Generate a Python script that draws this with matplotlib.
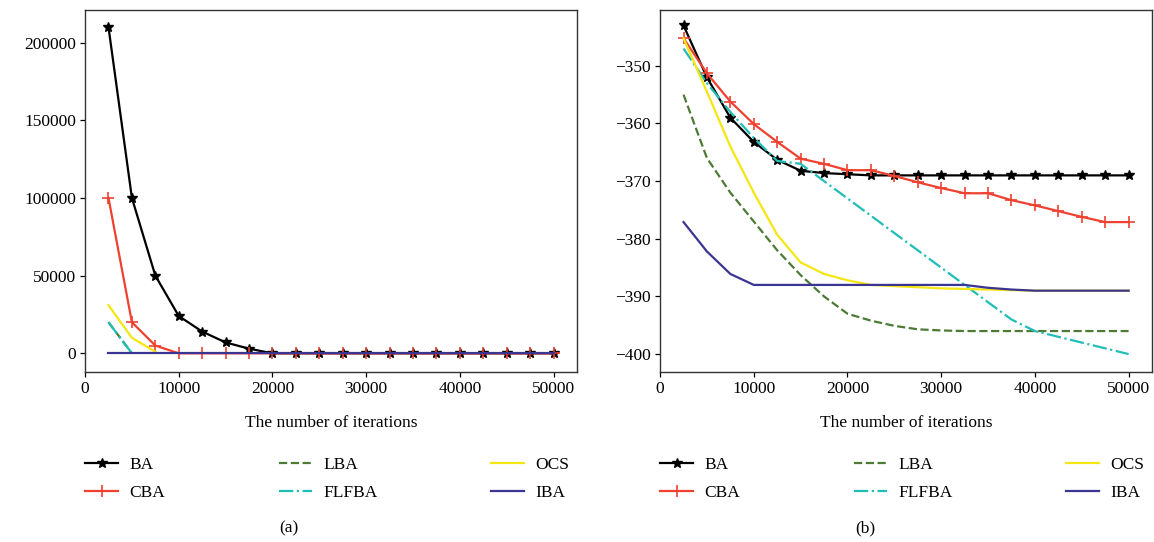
import numpy as np
import matplotlib
matplotlib.use('Agg')
import matplotlib.pyplot as plt

plt.rcParams['font.family'] = ['Liberation Serif', 'DejaVu Serif']
plt.rcParams['font.size'] = 12.5

############### data ################################
iters = np.arange(2500, 50001, 2500)   # 20 sampling points
labels = ['BA', 'CBA', 'LBA', 'FLFBA', 'OCS', 'IBA']

# (a) fitness on the first problem
a_BA = [210000, 100000, 50000, 24000, 14000, 7000, 3000] + [0] * 13
a_CBA = [100000, 20000, 5000] + [0] * 17
a_LBA = [20000, 0]
a_FLFBA = [20000, 0]
a_OCS = [31000, 10000, 1000]
a_IBA = [0] * 20

# (b) fitness on the second problem
b_BA = [-343, -352, -359, -363.2, -366.3, -368.2, -368.6, -368.8, -369, -369,
        -369, -369, -369, -369, -369, -369, -369, -369, -369, -369]
b_CBA = [-345.2, -351.3, -356.2, -360.1, -363.2, -366.1, -367, -368.1, -368.1, -369.1,
         -370.2, -371.2, -372.1, -372.1, -373.3, -374.2, -375.2, -376.2, -377.1, -377.1]
b_LBA = [-355, -366, -372, -377, -382, -386.3, -390, -393, -394.2, -395.1,
         -395.7, -395.9, -396, -396, -396, -396, -396, -396, -396, -396]
b_FLFBA = [-347, -353, -358, -362.5, -366.5, -367, -370, -373, -376, -379,
           -382, -385, -388, -391, -394, -396, -397, -398, -399, -400]
b_OCS = [-345.2, -354.5, -364, -372, -379.3, -384.1, -386.1, -387.2, -388, -388.2,
         -388.4, -388.6, -388.7, -388.8, -388.9, -389, -389, -389, -389, -389]
b_IBA = [-377.1, -382.2, -386.1, -388, -388, -388, -388, -388, -388, -388,
         -388, -388, -388, -388.5, -388.8, -389, -389, -389, -389, -389]

styles = {
    'BA':    dict(color='black', ls='-', marker='*', ms=7),
    'CBA':   dict(color='#ef4130', ls='-', marker='+', ms=8, mew=1.2),
    'LBA':   dict(color='#4d7a35', ls='--'),
    'FLFBA': dict(color='#21bdb7', ls='-.'),
    'OCS':   dict(color='#f5e612', ls='-'),
    'IBA':   dict(color='#3a3592', ls='-'),
}

############### figure ################################
fig = plt.figure(figsize=(11.54, 5.42), dpi=100)
ax1 = fig.add_axes([0.0737, 0.3137, 0.4263, 0.668])
ax2 = fig.add_axes([0.5720, 0.3137, 0.4263, 0.668])

def draw(ax, series):
    for name, vals in zip(labels, series):
        ax.plot(iters[:len(vals)], vals, lw=1.6, label=name, **styles[name])
    ax.set_xlim(0, 52500)
    ax.set_xticks(np.arange(0, 50001, 10000))
    ax.set_xlabel('The number of iterations', labelpad=13)
    ax.tick_params(direction='out', length=3.5, width=0.9, pad=3)
    for sp in ax.spines.values():
        sp.set_linewidth(1.0)
        sp.set_color('#333333')
    ax.legend(loc='upper left', bbox_to_anchor=(0.0, -0.335, 0.985, 0.1), mode='expand',
              ncol=3, frameon=False, handlelength=1.9, handletextpad=0.65,
              labelspacing=0.65, borderaxespad=0, borderpad=0)

draw(ax1, [a_BA, a_CBA, a_LBA, a_FLFBA, a_OCS, a_IBA])
ax1.set_ylim(-12000, 221000)
ax1.set_yticks(np.arange(0, 200001, 50000))

draw(ax2, [b_BA, b_CBA, b_LBA, b_FLFBA, b_OCS, b_IBA])
ax2.set_ylim(-403.1, -340.3)
ax2.set_yticks(np.arange(-400, -349, 10))

fig.text(0.25, 0.026, '(a)', ha='center', va='center')
fig.text(0.75, 0.026, '(b)', ha='center', va='center')

fig.savefig('out.png', dpi=100)
